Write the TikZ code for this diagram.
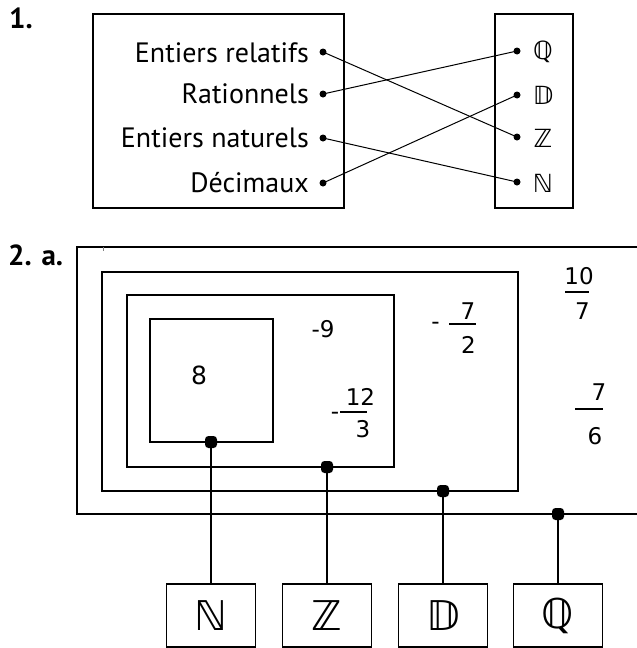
\documentclass[tikz,border=0pt]{standalone}
\usepackage{fontspec}
\setmainfont{PT Sans}
\newfontfamily\dvs{DejaVu Sans}
\begin{document}
\begin{tikzpicture}[x=1pt,y=-1pt,
  lbl/.style={font=\fontsize{28}{30}\selectfont, anchor=base east, inner sep=0},
  bb/.style={font=\dvs\fontsize{25}{26}\selectfont, anchor=base, inner sep=0},
  pt/.style={circle, fill, inner sep=0, minimum size=7pt},
  sq/.style={fill, rounded corners=3.5pt, inner sep=0, minimum width=12pt, minimum height=12pt},
  box/.style={draw, line width=1.6pt, inner sep=0, minimum width=89pt, minimum height=63pt, font=\dvs\fontsize{41}{42}\selectfont},
  num/.style={font=\dvs\fontsize{23}{24}\selectfont, anchor=base, inner sep=0},
  thin/.style={line width=1.1pt},
  thick/.style={line width=1.7pt}]
\useasboundingbox (0,0) rectangle (637,648);
% ---------- part 1 ----------
\node[font=\bfseries\fontsize{29}{30}\selectfont, anchor=base west, inner sep=0] (t1) at (9,28) {1.};
\node[draw, thin, inner sep=0, minimum width=251pt, minimum height=194pt] (lbox) at (218.5,111) {};
\node[draw, thin, inner sep=0, minimum width=78pt, minimum height=194pt] (rbox) at (534,111) {};
\node[lbl] (l1) at (309,62) {Entiers relatifs};
\node[lbl] (l2) at (309,103) {Rationnels};
\node[lbl] (l3) at (309,147) {Entiers naturels};
\node[lbl] (l4) at (309,192) {Décimaux};
\node[pt] (a1) at (323,52) {};
\node[pt] (a2) at (323,94) {};
\node[pt] (a3) at (323,138) {};
\node[pt] (a4) at (323,183) {};
\node[pt] (b1) at (517,51) {};
\node[pt] (b2) at (517,95) {};
\node[pt] (b3) at (517,137) {};
\node[pt] (b4) at (517,182) {};
\node[bb] (sQ) at (543,59) {ℚ};
\node[bb] (sD) at (543,104) {𝔻};
\node[bb] (sZ) at (543,147) {ℤ};
\node[bb] (sN) at (543,192) {ℕ};
\draw[line width=1pt] (a1.center) -- (b3.center);
\draw[line width=1pt] (a2.center) -- (b1.center);
\draw[line width=1pt] (a3.center) -- (b4.center);
\draw[line width=1pt] (a4.center) -- (b2.center);
% ---------- part 2 ----------
\node[font=\bfseries\fontsize{29}{30}\selectfont, anchor=base west, inner sep=0] (t2) at (8,265) {2. a.};
\draw[thick] (637,247) -- (77,247) -- (77,514) -- (637,514);
\draw[line width=0.8pt, gray] (103,247) -- (103,251);
\node[draw, thick, inner sep=0, minimum width=416pt, minimum height=219pt] (bD) at (310,381.5) {};
\node[draw, thick, inner sep=0, minimum width=267pt, minimum height=172pt] (bZ) at (260.5,381) {};
\node[draw, thick, inner sep=0, minimum width=123pt, minimum height=123pt] (bN) at (211.5,380.5) {};
\node[num, font=\dvs\fontsize{25}{26}\selectfont] (n8) at (199,384) {8};
\node[num] (n9) at (323,337) {-9};
\node[num] (m12) at (335,419) {-};
\node[num] (n12) at (360.5,405) {12};
\node[num] (n3) at (363,437) {3};
\draw[thick] (340,412) -- (367,412);
\node[num] (m72) at (435.5,329) {-};
\node[num] (n7a) at (468,319) {7};
\node[num] (n2) at (468.5,353) {2};
\draw[thick] (449,324) -- (476,324);
\node[num] (n10) at (579,284) {10};
\node[num] (n7b) at (582.5,319) {7};
\draw[thick] (565,292) -- (589,292);
\node[num] (n7c) at (599,400) {7};
\node[num] (n6) at (595,444) {6};
\draw[thick] (575,409) -- (603,409);
\node[sq] (dN) at (211,442) {};
\node[sq] (dZ) at (327,467) {};
\node[sq] (dD) at (443,491) {};
\node[sq] (dQ) at (558,514) {};
\node[box] (xN) at (211,615.5) {ℕ};
\node[box] (xZ) at (327,615.5) {ℤ};
\node[box] (xD) at (443,615.5) {𝔻};
\node[box] (xQ) at (558,615.5) {ℚ};
\draw[thick] (dN.center) -- (xN.north);
\draw[thick] (dZ.center) -- (xZ.north);
\draw[thick] (dD.center) -- (xD.north);
\draw[thick] (dQ.center) -- (xQ.north);
\end{tikzpicture}
\end{document}
